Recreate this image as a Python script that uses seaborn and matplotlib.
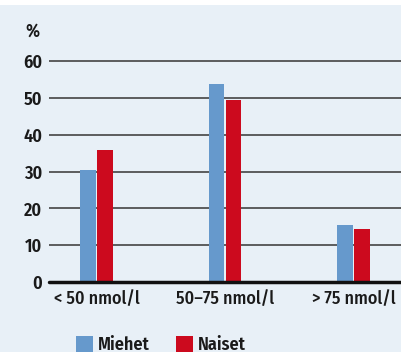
import seaborn as sns
import pandas as pd
import matplotlib.pyplot as plt
from matplotlib.patches import Rectangle

# data
categories = ["< 50 nmol/l", "50\u201375 nmol/l", "> 75 nmol/l"]
groups = ["Miehet", "Naiset"]
miehet = [30.4, 53.8, 15.5]
naiset = [35.9, 49.5, 14.4]
yticks = [0, 10, 20, 30, 40, 50, 60]

bg = "#e8f0f7"
colors = ["#6699cc", "#cc0a1e"]
txt = "#1a1a1a"

df = pd.DataFrame({
    "cat": categories * 2,
    "group": [groups[0]] * 3 + [groups[1]] * 3,
    "value": miehet + naiset,
})

sns.set_style("white")
plt.rcParams["font.family"] = ["Fira Sans Condensed", "DejaVu Sans"]

fig = plt.figure(figsize=(4.01, 3.52), dpi=100, facecolor=bg)
# white strip at the very top
fig.patches.append(Rectangle((0, 1 - 5 / 352), 1, 5 / 352, transform=fig.transFigure,
                             facecolor="white", edgecolor="none", zorder=0))
ax = fig.add_axes([49 / 401, 1 - 282 / 352, 352 / 401, (282 - 42) / 352])
ax.set_facecolor(bg)

sns.barplot(data=df, x="cat", y="value", hue="group", palette=colors,
            width=0.26, gap=0.06, saturation=1, linewidth=0, ax=ax, zorder=3, legend=False)

ax.set_ylim(0, 65.3)
ax.set_xlim(-0.37, 2.37)
ax.set_yticks(yticks)
for t in yticks[1:]:
    ax.axhline(t, color="#444444", lw=1.2, zorder=1)
ax.axhline(0, color="#111111", lw=2.5, zorder=4, clip_on=False)
for s in ax.spines.values():
    s.set_visible(False)

ax.set_yticklabels([str(t) for t in yticks], fontsize=13, fontweight=600, color=txt)
ax.set_xticks(range(3))
ax.set_xticklabels(categories, fontsize=13, fontweight=500, color=txt)
ax.tick_params(axis="both", length=0)
ax.tick_params(axis="y", pad=5)
ax.tick_params(axis="x", pad=6)
ax.set_xlabel("")
ax.set_ylabel("")

fig.text(25 / 401, 1 - 31 / 352, "%", fontsize=13, fontweight=600, color=txt,
         va="center", ha="left")

# legend at the bottom
handles = [Rectangle((0, 0), 1, 1, facecolor=c, edgecolor="none") for c in colors]
leg = fig.legend(handles, groups, loc="center left", bbox_to_anchor=(76 / 401, 1 - 345 / 352),
                 ncol=2, frameon=False, fontsize=13, handlelength=0.95, handleheight=0.95,
                 handletextpad=0.25, columnspacing=1.45, borderpad=0, borderaxespad=0)
for t in leg.get_texts():
    t.set_fontweight(600)
    t.set_color(txt)

fig.savefig("out.png", dpi=100, facecolor=bg)
